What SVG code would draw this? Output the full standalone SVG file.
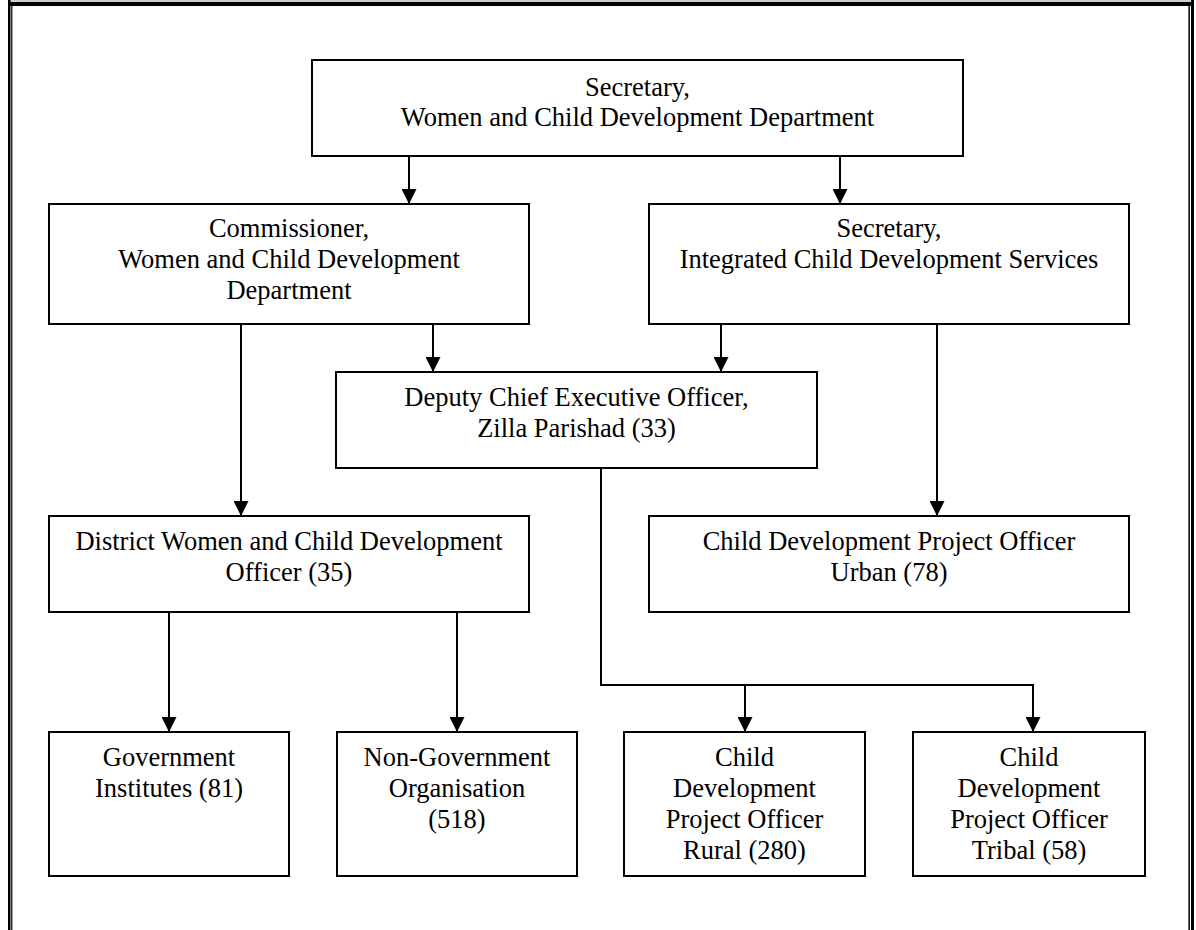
<svg xmlns="http://www.w3.org/2000/svg" width="1196" height="930" viewBox="0 0 1196 930">
<style>
  .box { fill: #ffffff; stroke: #000000; stroke-width: 2; }
  .t { font-family: "Liberation Serif", "Times New Roman", serif; font-size: 26.5px; fill: #000000; text-anchor: middle; }
  .c { fill: none; stroke: #000000; stroke-width: 2; }
</style>
<defs>
  <marker id="arr" markerUnits="userSpaceOnUse" markerWidth="15" markerHeight="15" refX="15" refY="7.5" orient="auto">
    <path d="M0,0 L15,7.5 L0,15 z" fill="#000000"/>
  </marker>
</defs>
<rect width="1196" height="930" fill="#ffffff"/>
<g id="frame">
  <rect x="8" y="0" width="1186" height="2" fill="#cfcfcf"/>
  <rect x="8" y="2" width="1186" height="4" fill="#000000"/>
  <rect x="8" y="0" width="2.5" height="930" fill="#000000"/>
  <rect x="11.2" y="2" width="1.2" height="928" fill="#000000"/>
  <rect x="1188.4" y="2" width="1.5" height="928" fill="#000000"/>
  <rect x="1191" y="0" width="3" height="930" fill="#000000"/>
</g>
<g id="connectors">
  <path class="c" d="M409,156 V204" marker-end="url(#arr)"/>
  <path class="c" d="M840,156 V204" marker-end="url(#arr)"/>
  <path class="c" d="M241,324 V516" marker-end="url(#arr)"/>
  <path class="c" d="M433,324 V372" marker-end="url(#arr)"/>
  <path class="c" d="M721,324 V372" marker-end="url(#arr)"/>
  <path class="c" d="M937,324 V516" marker-end="url(#arr)"/>
  <path class="c" d="M169,612 V732" marker-end="url(#arr)"/>
  <path class="c" d="M457,612 V732" marker-end="url(#arr)"/>
  <path class="c" d="M601,468 V685 H1033 V732" marker-end="url(#arr)"/>
  <path class="c" d="M745,685 V732" marker-end="url(#arr)"/>
</g>
<g id="secretary-wcd">
  <rect class="box" x="312" y="60" width="651" height="96"/>
  <text class="t" x="637.5" y="95.5">Secretary,</text>
  <text class="t" x="637.5" y="126">Women and Child Development Department</text>
</g>
<g id="commissioner">
  <rect class="box" x="49" y="204" width="480" height="120"/>
  <text class="t" x="289" y="237">Commissioner,</text>
  <text class="t" x="289" y="268">Women and Child Development</text>
  <text class="t" x="289" y="299">Department</text>
</g>
<g id="secretary-icds">
  <rect class="box" x="649" y="204" width="480" height="120"/>
  <text class="t" x="889" y="237">Secretary,</text>
  <text class="t" x="889" y="268">Integrated Child Development Services</text>
</g>
<g id="deputy-ceo">
  <rect class="box" x="336" y="372" width="481" height="96"/>
  <text class="t" x="576.5" y="406">Deputy Chief Executive Officer,</text>
  <text class="t" x="576.5" y="437">Zilla Parishad (33)</text>
</g>
<g id="district-officer">
  <rect class="box" x="49" y="516" width="480" height="96"/>
  <text class="t" x="289" y="550">District Women and Child Development</text>
  <text class="t" x="289" y="581">Officer (35)</text>
</g>
<g id="cdpo-urban">
  <rect class="box" x="649" y="516" width="480" height="96"/>
  <text class="t" x="889" y="550">Child Development Project Officer</text>
  <text class="t" x="889" y="581">Urban (78)</text>
</g>
<g id="gov-institutes">
  <rect class="box" x="49" y="732" width="240" height="144"/>
  <text class="t" x="169" y="766">Government</text>
  <text class="t" x="169" y="797">Institutes (81)</text>
</g>
<g id="ngo">
  <rect class="box" x="337" y="732" width="240" height="144"/>
  <text class="t" x="457" y="766">Non-Government</text>
  <text class="t" x="457" y="797">Organisation</text>
  <text class="t" x="457" y="828">(518)</text>
</g>
<g id="cdpo-rural">
  <rect class="box" x="624" y="732" width="241" height="144"/>
  <text class="t" x="744.5" y="766">Child</text>
  <text class="t" x="744.5" y="797">Development</text>
  <text class="t" x="744.5" y="828">Project Officer</text>
  <text class="t" x="744.5" y="859">Rural (280)</text>
</g>
<g id="cdpo-tribal">
  <rect class="box" x="913" y="732" width="232" height="144"/>
  <text class="t" x="1029" y="766">Child</text>
  <text class="t" x="1029" y="797">Development</text>
  <text class="t" x="1029" y="828">Project Officer</text>
  <text class="t" x="1029" y="859">Tribal (58)</text>
</g>
</svg>
